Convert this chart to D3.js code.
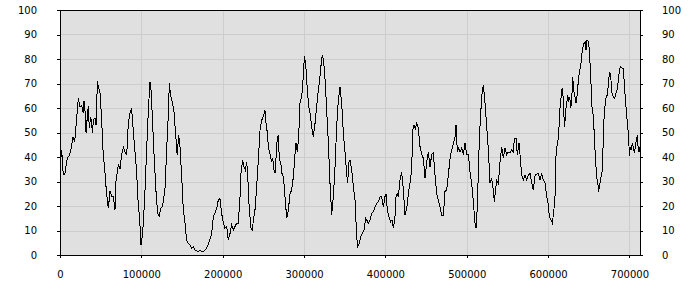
<!DOCTYPE html>
<meta charset="utf-8">
<script src="https://d3js.org/d3.v7.min.js"></script>
<style>
    body { margin: 0; background: white; }
    text { font-family: "DejaVu Sans", Verdana, sans-serif; font-size: 10px; fill: black; }
</style>
<div id="my_dataviz"></div>
<script>
    // positions along the x axis
    var xValues = [
        0, 2000, 4000, 6000, 8000, 10000, 12000, 14000, 16000, 18000, 20000, 22500, 24600, 26600, 28700, 29500, 30700,
        32000, 33600, 34800, 36000, 37700, 39000, 40000, 41000, 43000, 44300, 46000, 47500, 49000, 51000, 53000,
        55000, 57000, 59400, 61500, 63500, 65600, 67600, 68800, 71700, 73800, 75800, 77900, 80000, 82000, 84000,
        86000, 88000, 90000, 92000, 94000, 96000, 98000, 99600, 101000, 102500, 104500, 106500, 108600, 110600,
        112000, 113500, 115600, 118000, 120000, 122000, 123800, 126000, 129000, 131000, 133000, 134400, 136000,
        138000, 140000, 142000, 144000, 146000, 147500, 149600, 151600, 153700, 155700, 157800, 160000, 162000,
        164000, 166000, 168000, 170000, 172000, 174000, 176000, 178000, 180000, 182000, 184000, 186500, 188500,
        190500, 192600, 194600, 196700, 198700, 200800, 202800, 204900, 206900, 209000, 211000, 213100, 215100,
        217200, 219200, 221300, 222500, 224600, 226200, 227800, 229500, 230700, 232000, 233600, 234800, 236500,
        237700, 239700, 241800, 243800, 245900, 247900, 250000, 252000, 253300, 254900, 256100, 258200, 260200,
        261400, 263100, 264700, 266400, 268400, 269600, 271300, 272900, 274600, 276600, 278700, 280700, 282800,
        284800, 286900, 288900, 290100, 291800, 293400, 295000, 297100, 299100, 300400, 302000, 304100, 305700,
        307300, 309400, 311400, 313500, 315500, 317600, 319600, 321700, 322900, 324600, 326200, 327800, 329900,
        331900, 334000, 336000, 338100, 340100, 342200, 344200, 346300, 348300, 350400, 352400, 353600, 355300,
        356500, 358600, 360600, 362700, 364700, 366000, 368000, 369600, 371700, 373700, 375800, 377000, 379100,
        381100, 383200, 385200, 387300, 389300, 391400, 393400, 395400, 397500, 399500, 400800, 402400, 404500,
        406500, 408200, 409800, 411800, 413100, 414700, 415900, 418000, 420000, 422100, 424100, 426200, 428200,
        430300, 432300, 433600, 435200, 436800, 438500, 440500, 442600, 444600, 446700, 448700, 450800, 452800,
        454900, 456900, 459000, 461000, 463100, 465100, 467200, 469200, 471300, 473300, 475400, 477400, 479500,
        481500, 483600, 485600, 486800, 488500, 490100, 491800, 493800, 495900, 497900, 500000, 502000, 504000,
        506100, 508100, 510200, 511400, 513100, 514700, 516300, 518400, 520400, 522500, 524500, 526600, 528600,
        530700, 532700, 534000, 535600, 536800, 538900, 540900, 543000, 545000, 547100, 549100, 551200, 553200,
        555300, 557300, 558500, 560600, 562200, 564300, 565500, 567600, 569600, 571700, 573700, 575800, 577800,
        579900, 581900, 584000, 586000, 588100, 590100, 592100, 594200, 596200, 598300, 600300, 601600, 603600,
        605300, 607300, 608500, 609800, 611400, 613000, 614300, 615500, 616700, 618000, 619200, 620400, 621600,
        622900, 624100, 625300, 626600, 627800, 629000, 630300, 631500, 633100, 634400, 636000, 637200, 638500,
        640100, 641300, 642500, 644200, 645800, 646600, 647900, 649500, 650700, 652400, 654000, 655700, 657300,
        658500, 659800, 661000, 662200, 663400, 664700, 666300, 667500, 668800, 670400, 671600, 672900, 674500,
        675700, 677000, 678600, 680300, 681900, 683500, 685200, 686800, 688000, 689300, 690900, 692500, 694200,
        695800, 697500, 699100, 699900, 701100, 702400, 703600, 704800, 706100, 707300, 708500, 709800, 710600,
        711800, 713000
    ];

    // series values
    var yValues = [
        35, 43, 33, 33, 38, 40, 41, 44, 48, 46, 54, 64, 60.5, 61, 58, 63, 59,
        50, 56.5, 61, 52, 56.5, 53, 50, 55, 56, 53, 71, 68, 67, 56.5, 42,
        35, 26, 19, 26, 24, 24, 18.4, 30, 37, 35, 41, 44, 42, 41, 54,
        58, 60, 51, 43, 35, 22, 14, 4, 7.5, 13, 26.5, 43, 59, 70.7,
        67, 56.5, 41, 26, 17, 16, 19, 19.7, 26.5, 42, 56.5, 70, 65,
        62.6, 59, 50, 41, 49, 44, 32, 18.4, 13, 6, 4.8, 4, 2.7,
        3.4, 2, 1.7, 1.4, 2, 1.4, 1.4, 2, 2.7, 4, 6, 8.8, 15.6,
        17, 19, 22.4, 23, 17, 13, 10.9, 11.6, 6.1, 8.8, 12.2, 10.2, 11.6,
        13, 13, 23.8, 33.3, 38.8, 36, 34.7, 38, 33.3, 22.4, 15.6, 10.9, 10.2,
        14.3, 18.4, 27.9, 38.8, 51, 55, 56.5, 59, 53.7, 49.8, 44.2, 41, 38,
        39.5, 34.7, 33.3, 45.6, 49, 38.8, 38, 33.3, 32, 23.8, 15, 18.4, 25,
        26.5, 32, 41, 45.6, 42, 48.3, 61.9, 64.6, 72.8, 81, 78, 67.3, 60.5,
        58, 52.4, 48.3, 53.7, 60.5, 67.3, 72.8, 80.3, 81.6, 76.9, 70, 59, 45.6,
        29.3, 16.3, 23.8, 36, 52.4, 63.3, 68.7, 61.9, 49.8, 42, 33.3, 29.3, 38,
        38.8, 34.7, 27.9, 22.4, 7.5, 3.4, 4.8, 7.5, 8.8, 10.2, 15, 14.3, 13,
        14.3, 17, 17.7, 19.7, 21, 21.7, 23.8, 23.8, 19.7, 23.8, 25, 18.4, 15.6,
        13.6, 14.3, 10.9, 15.6, 23.8, 25, 23.8, 30.6, 34, 26.5, 16.3, 19, 25,
        29.3, 34.7, 51, 53, 51.7, 53.7, 51.7, 44.2, 41, 39.5, 31.3, 38, 42,
        36, 41, 41.6, 32.6, 25, 22.4, 19.7, 16.3, 16.3, 26, 26.5, 32.6, 39.5,
        42.9, 45.6, 48, 53, 42, 43.6, 42, 43.6, 41, 45.6, 41, 41, 34,
        29.3, 21.7, 13, 10.9, 19.7, 39.5, 52.4, 64.6, 69.4, 61.9, 52.4, 42.9, 29.3,
        31.3, 26.5, 21.7, 27.2, 30.6, 29.3, 38, 44.2, 39.5, 43.6, 41, 42, 41.6,
        42.9, 42, 47.6, 47.6, 41, 45.6, 41, 32.6, 30.6, 32.6, 30.6, 32.6, 33.3,
        29.3, 26.5, 32.6, 33, 33.3, 30.6, 33.3, 30.6, 29.3, 23.8, 20.4, 15.6, 14.3,
        13, 19, 23.8, 41, 45.6, 48.3, 59, 62.6, 67.3, 68, 58, 52.4, 59,
        61.9, 65.3, 62.6, 64.6, 59.9, 62.6, 72.8, 67.3, 64.6, 61.9, 66, 71.4, 74.8,
        76.9, 81.6, 84.4, 86.4, 87.1, 83.7, 87.8, 87.1, 83.7, 72.8, 60.5, 56.5, 45.6,
        38, 31.3, 29.9, 25.9, 28.6, 31.3, 34, 43.6, 55.8, 62.6, 64.6, 65.3, 71.4,
        74.8, 72.8, 66, 64.6, 64, 66, 68, 72.8, 76.2, 76.9, 76.2, 76.2, 67.3,
        60.5, 53.7, 48.3, 40.3, 44.2, 43, 45.6, 44.2, 41.6, 44.2, 46.9, 49, 44.2,
        42.2, 44.2
    ];

    // tick labels
    var xTicks = [0, 100000, 200000, 300000, 400000, 500000, 600000, 700000];
    var yTicks = [0, 10, 20, 30, 40, 50, 60, 70, 80, 90, 100];

    var data = xValues.map(function(x, i) { return { x: x, y: yValues[i] }; });

    // set the dimensions and margins of the graph
    var margin = { top: 10, right: 60, bottom: 45, left: 60 },
        width = 700 - margin.left - margin.right,
        height = 300 - margin.top - margin.bottom;

    var svg = d3.select("#my_dataviz")
        .append("svg")
        .attr("width", 700)
        .attr("height", 300)
        .append("g")
        .attr("transform", "translate(" + margin.left + "," + margin.top + ")");

    var x = d3.scaleLinear().domain([0, 713000]).range([0, width]);
    var y = d3.scaleLinear().domain([0, 100]).range([height, 0]);

    // plot background
    svg.append("rect")
        .attr("width", width)
        .attr("height", height)
        .style("fill", "#e0e0e0");

    // grid lines
    svg.append("g").selectAll("line")
        .data(yTicks)
        .enter().append("line")
        .attr("x1", 0).attr("x2", width)
        .attr("y1", function(d) { return Math.round(y(d)) + 0.5; })
        .attr("y2", function(d) { return Math.round(y(d)) + 0.5; })
        .style("stroke", "#cdcdcd");
    svg.append("g").selectAll("line")
        .data(xTicks)
        .enter().append("line")
        .attr("y1", 0).attr("y2", height)
        .attr("x1", function(d) { return Math.round(x(d)) + 0.5; })
        .attr("x2", function(d) { return Math.round(x(d)) + 0.5; })
        .style("stroke", "#cdcdcd");

    // the line (aliased, like the original)
    svg.append("path")
        .datum(data)
        .attr("d", d3.line()
            .x(function(d) { return x(d.x); })
            .y(function(d) { return y(d.y); }))
        .attr("shape-rendering", "crispEdges")
        .style("fill", "none")
        .style("stroke", "black")
        .style("stroke-width", 1);

    // frame
    svg.append("rect")
        .attr("x", 0.5).attr("y", 0.5)
        .attr("width", width).attr("height", height - 0.5)
        .style("fill", "none")
        .style("stroke", "black")
        .attr("shape-rendering", "crispEdges");

    // axes
    var bottom = svg.append("g")
        .attr("transform", "translate(0," + height + ")")
        .call(d3.axisBottom(x).tickValues(xTicks).tickFormat(d3.format("d")).tickSize(3).tickPadding(13));
    var left = svg.append("g")
        .call(d3.axisLeft(y).tickValues(yTicks).tickSize(3).tickPadding(20));
    var right = svg.append("g")
        .attr("transform", "translate(" + width + ",0)")
        .call(d3.axisRight(y).tickValues(yTicks).tickSize(3).tickPadding(19));

    [bottom, left, right].forEach(function(g) {
        g.select(".domain").remove();
        g.attr("font-family", null).attr("font-size", null);
        g.selectAll(".tick line").style("stroke", "black").attr("shape-rendering", "crispEdges");
    });
</script>
